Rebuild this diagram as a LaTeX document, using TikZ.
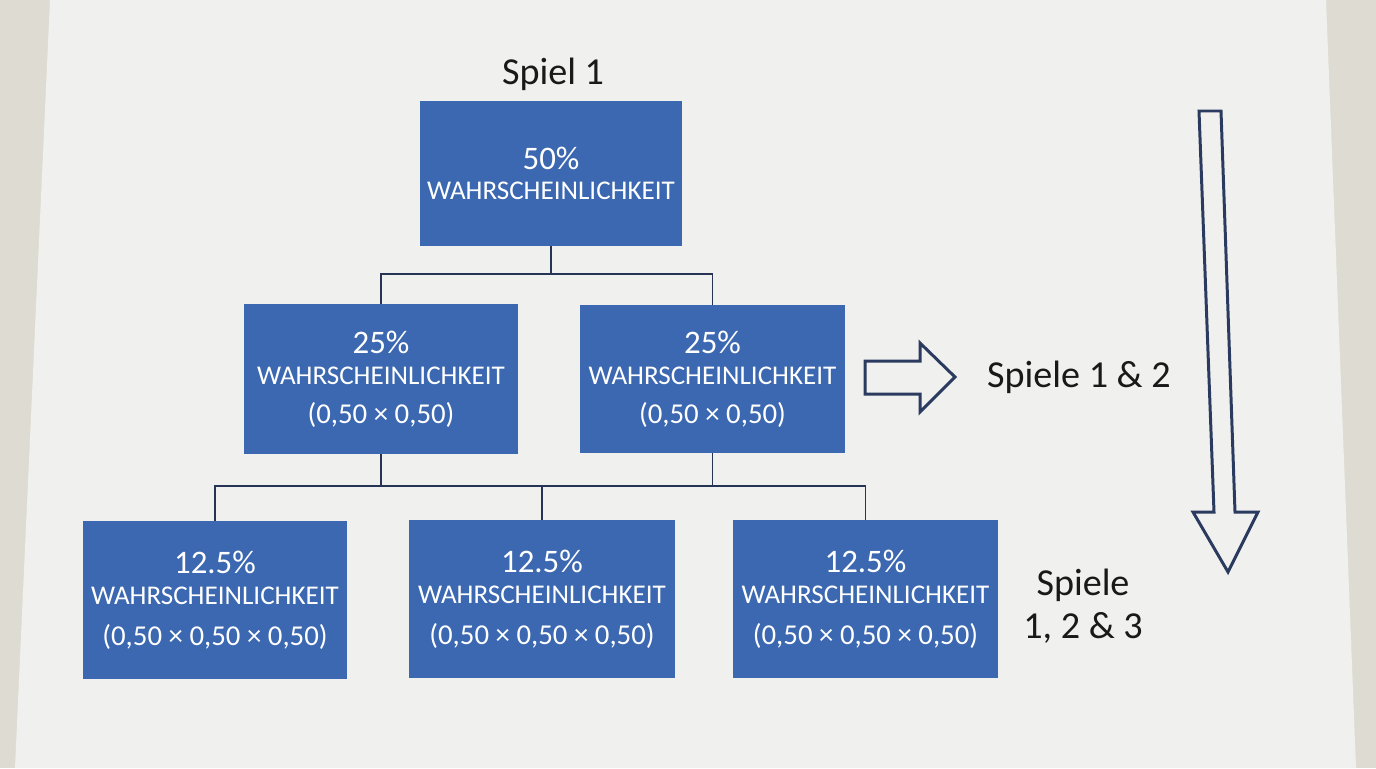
\documentclass[tikz,border=0pt]{standalone}
\usepackage{fontspec}
\setmainfont{Carlito}
\definecolor{boxblue}{HTML}{3B68B0}
\definecolor{linenavy}{HTML}{2B3A5F}
\definecolor{wallgrey}{HTML}{DEDCD2}
\definecolor{papergrey}{HTML}{F0F0EE}
\newcommand{\pctline}[1]{{\fontsize{18.7}{18}\selectfont #1}}
\newcommand{\calcline}[1]{{\fontsize{16.4}{18}\selectfont #1}}
\tikzset{
  probbox/.style={fill=boxblue, text=white, inner sep=0pt, align=center,
    minimum width=5.3cm, minimum height=2.96cm,
    font=\fontsize{15.4}{18}\selectfont},
  conn/.style={draw=linenavy!90!black, line width=1.1pt},
  hollow/.style={draw=linenavy, line width=1.7pt, line join=miter, fill=papergrey},
  gamelabel/.style={text=black!90, font=\fontsize{21.7}{24.4}\selectfont}
}
\begin{document}
\begin{tikzpicture}[x=0.02cm, y=-0.02cm]
    % Wall and sheet of paper
    \fill[wallgrey] (0,0) rectangle (1376,768);
    \fill[papergrey] (50,0) -- (1326,0) -- (1356,768) -- (15,768) -- cycle;
    \useasboundingbox (0,0) rectangle (1376,768);

    % Probability boxes
    \node[probbox, minimum width=5.24cm, minimum height=2.9cm] (top) at (551,173.5)
        {\pctline{50\%}\\[-1pt] WAHRSCHEINLICHKEIT};
    \node[probbox, minimum width=5.48cm, minimum height=3cm] (twoa) at (381,379)
        {\pctline{25\%}\\ WAHRSCHEINLICHKEIT\\[3.8pt] \calcline{(0,50 × 0,50)}};
    \node[probbox] (twob) at (712.5,379)
        {\pctline{25\%}\\ WAHRSCHEINLICHKEIT\\[3.8pt] \calcline{(0,50 × 0,50)}};
    \node[probbox, minimum width=5.28cm, minimum height=3.16cm] (threea) at (215,600)
        {\pctline{12.5\%}\\ WAHRSCHEINLICHKEIT\\[5pt] \calcline{(0,50 × 0,50 × 0,50)}};
    \node[probbox, minimum width=5.32cm, minimum height=3.16cm] (threeb) at (542,599)
        {\pctline{12.5\%}\\ WAHRSCHEINLICHKEIT\\[5pt] \calcline{(0,50 × 0,50 × 0,50)}};
    \node[probbox, minimum height=3.16cm] (threec) at (865.5,599)
        {\pctline{12.5\%}\\ WAHRSCHEINLICHKEIT\\[5pt] \calcline{(0,50 × 0,50 × 0,50)}};

    % Labels
    \node[gamelabel] (spiel) at (553,74) {Spiel 1};
    \node[gamelabel, anchor=west] (spielezwei) at (981,377) {Spiele 1 \& 2};
    \node[gamelabel, align=center] (spieledrei) at (1083,606) {Spiele\\1, 2 \& 3};

    % Tree connectors
    \coordinate (busone) at (551,274);
    \coordinate (bustwo) at (542,486);
    \draw[conn] (top.south) -- (busone);
    \draw[conn] (twoa.north) |- (busone);
    \draw[conn] (twob.north) |- (busone);
    \draw[conn] (twoa.south) |- (bustwo);
    \draw[conn] (twob.south) |- (bustwo);
    \draw[conn] (threea.north) |- (bustwo);
    \draw[conn] (threeb.north) -- (bustwo);
    \draw[conn] (threec.north) |- (bustwo);

    % Hollow arrows
    \draw[hollow] (865,361) -- (920,361) -- (920,343) -- (955,377) -- (920,412)
        -- (920,394) -- (865,394) -- cycle;
    \draw[hollow] (1199,111) -- (1221,111) -- (1235,512) -- (1258,512) -- (1228,572)
        -- (1193,512) -- (1214,512) -- cycle;
\end{tikzpicture}
\end{document}
